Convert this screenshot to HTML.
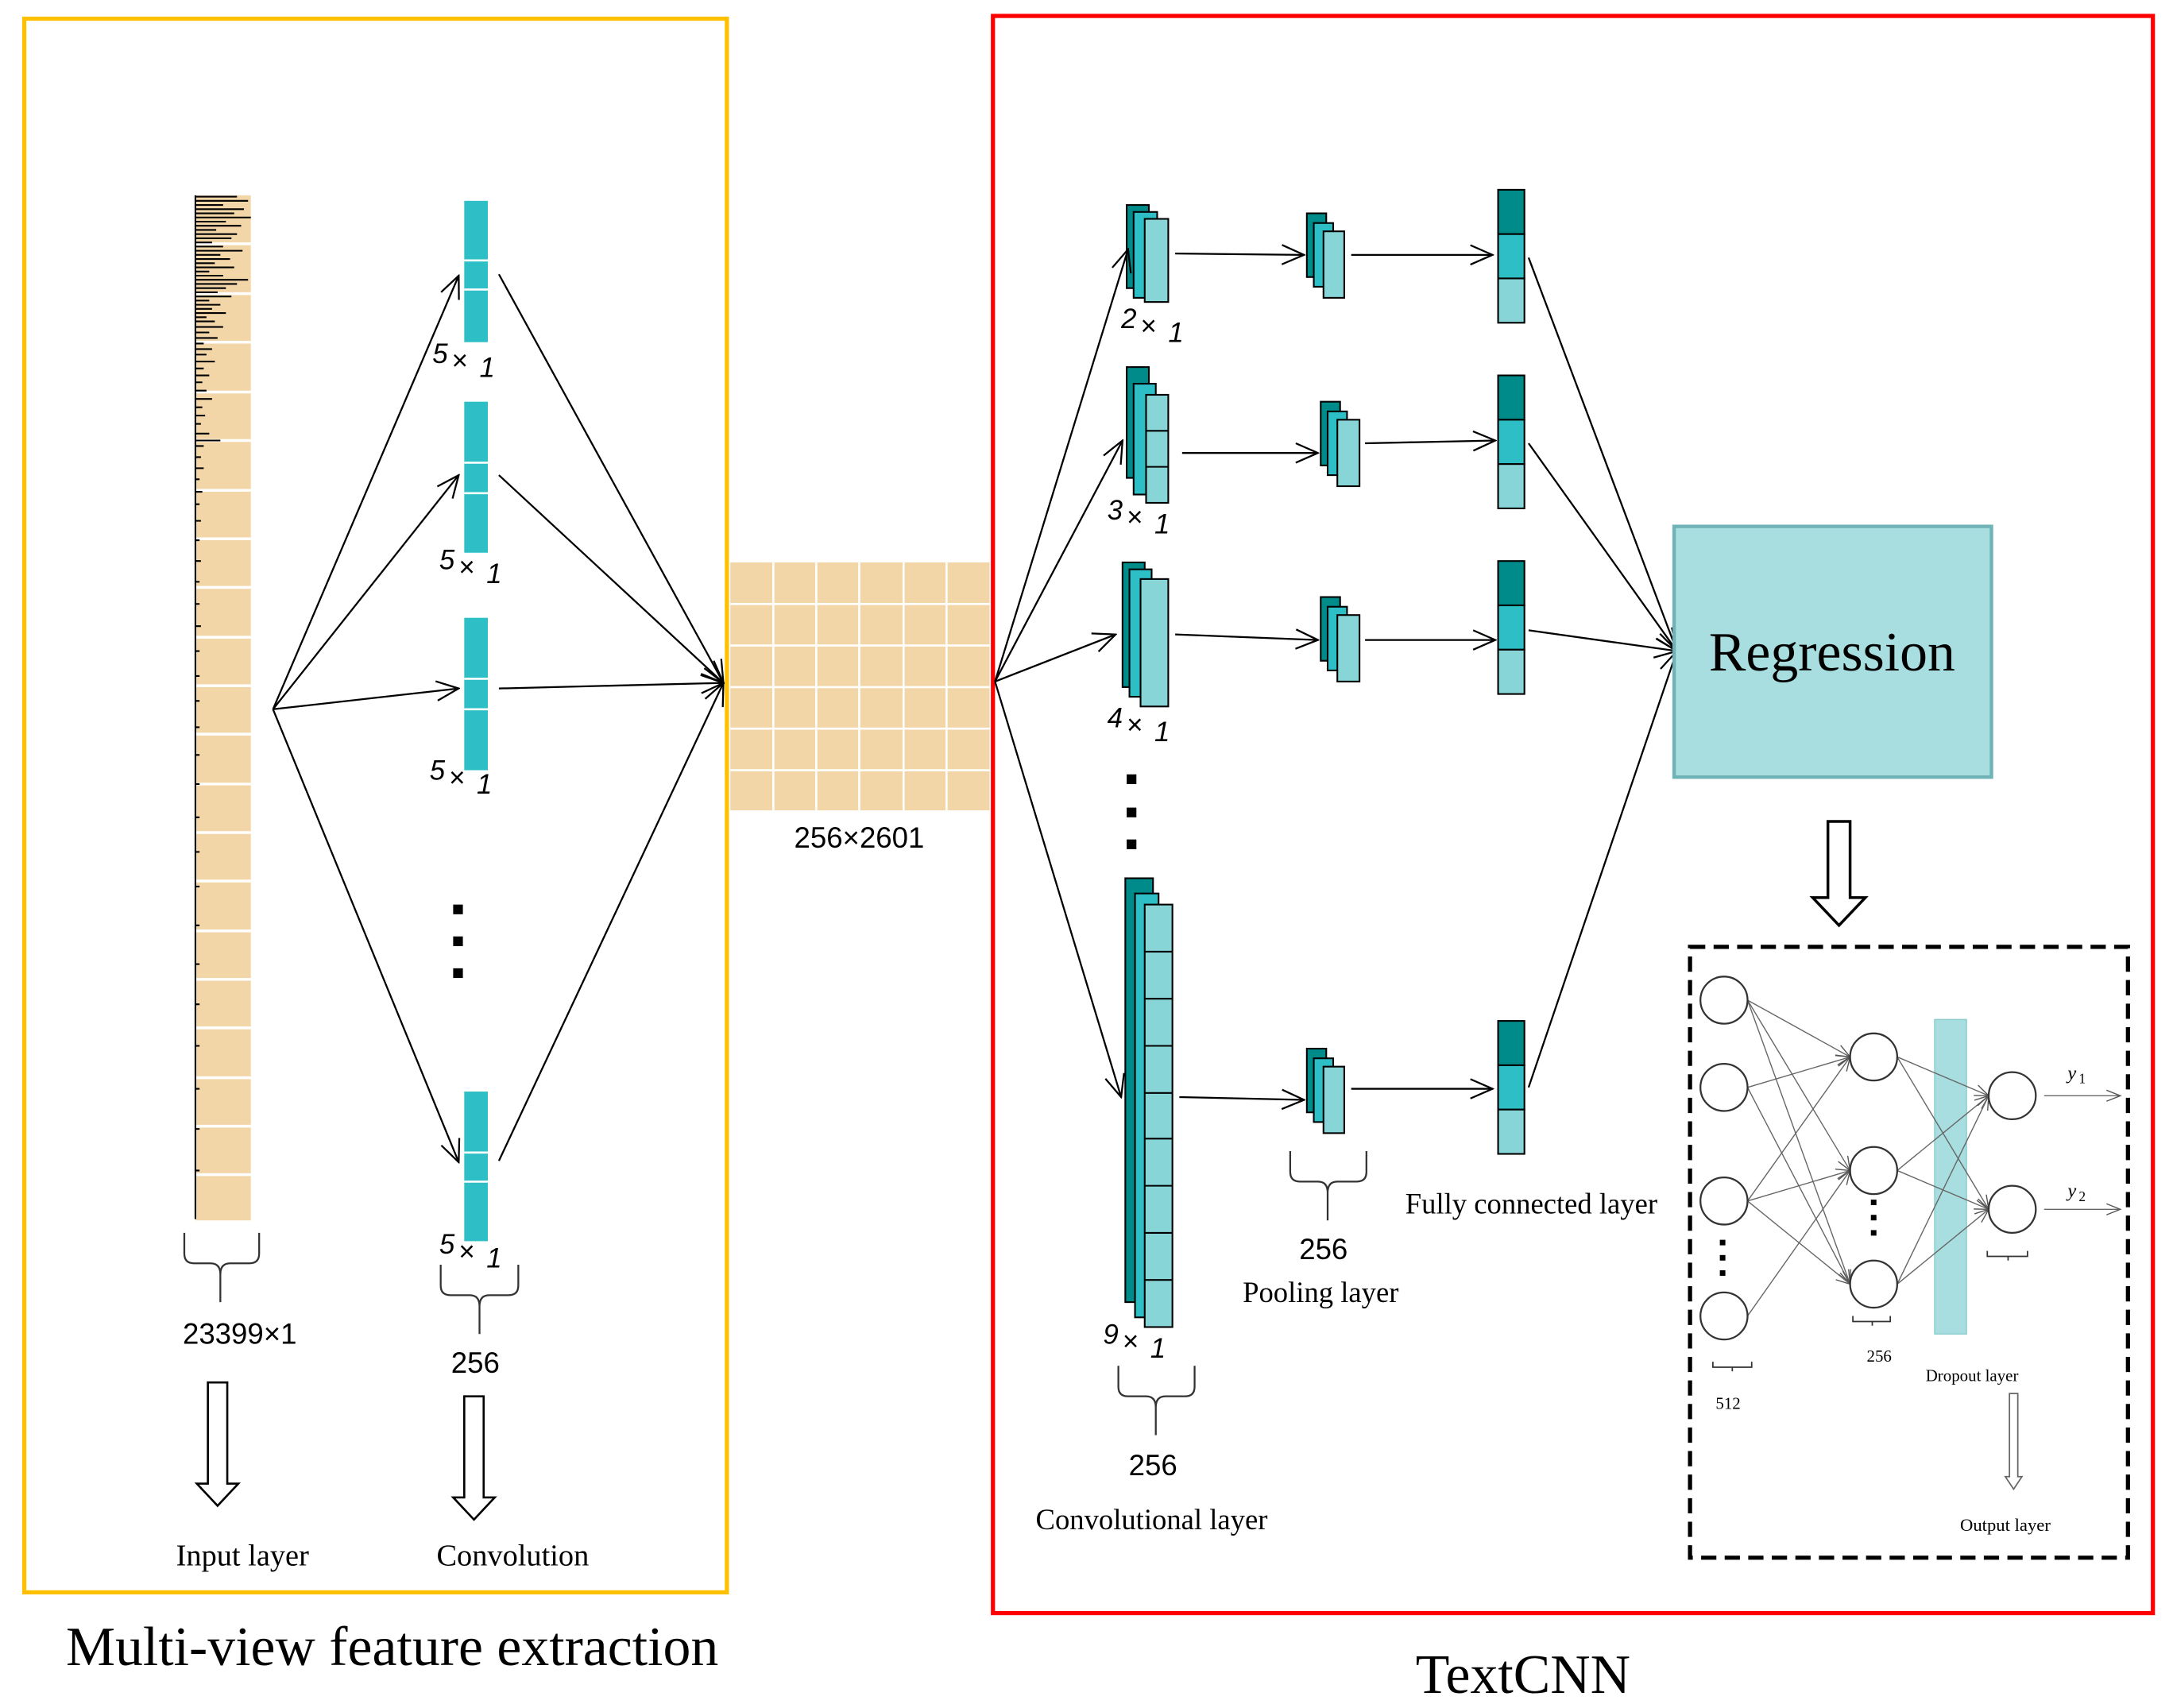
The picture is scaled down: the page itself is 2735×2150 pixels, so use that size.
<!DOCTYPE html>
<html><head><meta charset="utf-8"><style>
html,body{margin:0;padding:0;background:#fff;}
svg{display:block;}
.s{font-family:"Liberation Serif",serif;fill:#000;}
.a{font-family:"Liberation Sans",sans-serif;fill:#000;}
</style></head><body>
<svg width="2735" height="2150" viewBox="0 0 1568 1233" preserveAspectRatio="none" xmlns="http://www.w3.org/2000/svg">
<defs>
<marker id="ar" markerWidth="18" markerHeight="16" refX="17" refY="8" orient="auto" markerUnits="userSpaceOnUse">
<path d="M1,1 L17,8 L1,15" fill="none" stroke="#000" stroke-width="1.3"/>
</marker>
<marker id="ar2" markerWidth="12" markerHeight="10" refX="11" refY="5" orient="auto" markerUnits="userSpaceOnUse">
<path d="M1,1 L11,5 L1,9" fill="none" stroke="#555" stroke-width="0.8"/>
</marker>
</defs>
<rect width="1568" height="1240" fill="#fff"/>
<rect x="17.5" y="13.5" width="507" height="1136" fill="none" stroke="#FFC000" stroke-width="3"/>
<rect x="716.5" y="11.5" width="837" height="1153" fill="none" stroke="#FF0000" stroke-width="3"/>

<rect x="141" y="141" width="40" height="740" fill="#F2D6A8"/>
<g stroke="#fff" stroke-width="2">
<line x1="141" y1="176" x2="181" y2="176"/><line x1="141" y1="212" x2="181" y2="212"/><line x1="141" y1="247" x2="181" y2="247"/><line x1="141" y1="283" x2="181" y2="283"/><line x1="141" y1="318" x2="181" y2="318"/><line x1="141" y1="354" x2="181" y2="354"/><line x1="141" y1="389" x2="181" y2="389"/><line x1="141" y1="424" x2="181" y2="424"/><line x1="141" y1="460" x2="181" y2="460"/><line x1="141" y1="495" x2="181" y2="495"/><line x1="141" y1="530" x2="181" y2="530"/><line x1="141" y1="566" x2="181" y2="566"/><line x1="141" y1="601" x2="181" y2="601"/><line x1="141" y1="636" x2="181" y2="636"/><line x1="141" y1="672" x2="181" y2="672"/><line x1="141" y1="707" x2="181" y2="707"/><line x1="141" y1="742" x2="181" y2="742"/><line x1="141" y1="778" x2="181" y2="778"/><line x1="141" y1="813" x2="181" y2="813"/><line x1="141" y1="848" x2="181" y2="848"/>
</g>
<path stroke="#000" stroke-width="1.2" fill="none" d="M141,141 V880 M141,142h30 M141,145h38 M141,148h20 M141,151h35 M141,154h28 M141,157h40 M141,160h22 M141,163h33 M141,166h15 M141,169h30 M141,172h26 M141,175h12 M141,178h20 M141,181h34 M141,184h18 M141,187h25 M141,190h14 M141,193h28 M141,196h10 M141,199h20 M141,202h38 M141,205h30 M141,208h22 M141,211h16 M141,214h26 M141,217h10 M141,220h18 M141,223h12 M141,226h22 M141,229h8 M141,232h14 M141,236h20 M141,240h10 M141,244h16 M141,248h6 M141,252h12 M141,256h8 M141,261h14 M141,266h6 M141,271h10 M141,276h5 M141,282h8 M141,288h12 M141,294h5 M141,300h7 M141,306h4 M141,313h10 M141,318h18 M141,322h6 M141,330h4 M141,338h6 M141,346h3 M141,355h5 M141,364h3 M141,376h4 M141,390h3 M141,405h4 M141,420h3 M141,436h3 M141,452h4 M141,470h3 M141,488h3 M141,506h3 M141,525h3 M141,545h3 M141,566h3 M141,590h3 M141,615h3 M141,640h3 M141,668h3 M141,696h3 M141,725h3 M141,755h3 M141,786h3 M141,815h3 M141,845h3"/>

<g fill="#2EBFC6">
<rect x="335" y="145" width="17" height="102"/>
<rect x="335" y="290" width="17" height="109"/>
<rect x="335" y="446" width="17" height="110"/>
<rect x="335" y="788" width="17" height="108"/>
</g>
<g stroke="#fff" stroke-width="1.5">
<line x1="335" y1="188" x2="352" y2="188"/><line x1="335" y1="209" x2="352" y2="209"/>
<line x1="335" y1="334" x2="352" y2="334"/><line x1="335" y1="356" x2="352" y2="356"/>
<line x1="335" y1="490" x2="352" y2="490"/><line x1="335" y1="512" x2="352" y2="512"/>
<line x1="335" y1="832" x2="352" y2="832"/><line x1="335" y1="853" x2="352" y2="853"/>
</g>
<g class="a" font-size="20" font-style="italic">
<text x="312" y="262">5</text><text x="326" y="267" font-size="20" font-style="normal">×</text><text x="346" y="272">1</text>
<text x="317" y="411">5</text><text x="331" y="416" font-size="20" font-style="normal">×</text><text x="351" y="421">1</text>
<text x="310" y="563">5</text><text x="324" y="568" font-size="20" font-style="normal">×</text><text x="344" y="573">1</text>
<text x="317" y="905">5</text><text x="331" y="910" font-size="20" font-style="normal">×</text><text x="351" y="915">1</text>
</g>
<g fill="#000"><rect x="327" y="653" width="7" height="7"/><rect x="327" y="676" width="7" height="7"/><rect x="327" y="699" width="7" height="7"/></g>

<g stroke="#000" stroke-width="1.3" fill="none">
<line x1="197" y1="512" x2="331" y2="199" marker-end="url(#ar)"/>
<line x1="197" y1="512" x2="331" y2="343" marker-end="url(#ar)"/>
<line x1="197" y1="512" x2="331" y2="497" marker-end="url(#ar)"/>
<line x1="197" y1="512" x2="331" y2="839" marker-end="url(#ar)"/>
<line x1="360" y1="198" x2="522" y2="493" marker-end="url(#ar)"/>
<line x1="360" y1="343" x2="522" y2="493" marker-end="url(#ar)"/>
<line x1="360" y1="497" x2="522" y2="493" marker-end="url(#ar)"/>
<line x1="360" y1="838" x2="522" y2="493" marker-end="url(#ar)"/>
</g>

<rect x="527" y="406" width="187" height="179" fill="#F2D6A8"/>
<g stroke="#fff" stroke-width="1.5">
<line x1="558" y1="406" x2="558" y2="585"/><line x1="589" y1="406" x2="589" y2="585"/><line x1="620" y1="406" x2="620" y2="585"/><line x1="652" y1="406" x2="652" y2="585"/><line x1="683" y1="406" x2="683" y2="585"/>
<line x1="527" y1="436" x2="714" y2="436"/><line x1="527" y1="466" x2="714" y2="466"/><line x1="527" y1="496" x2="714" y2="496"/><line x1="527" y1="526" x2="714" y2="526"/><line x1="527" y1="556" x2="714" y2="556"/>
</g>
<text class="a" x="620" y="612" font-size="21" text-anchor="middle">256×2601</text>

<g stroke="#333" stroke-width="1.3" fill="none">
<path d="M133,890 V905 Q133,912 140,912 H152 Q159,912 159,920 V940 M159,920 Q159,912 166,912 H180 Q187,912 187,905 V890"/>
<path d="M318,913 V928 Q318,935 325,935 H339 Q346,935 346,943 V963 M346,943 Q346,935 353,935 H367 Q374,935 374,928 V913"/>
</g>
<text class="a" x="173" y="970" font-size="21" text-anchor="middle">23399×1</text>
<text class="a" x="343" y="991" font-size="21" text-anchor="middle">256</text>
<g stroke="#000" stroke-width="1.5" fill="#fff">
<path d="M150,998 H164 V1071 H172 L157,1087 L142,1071 H150 Z"/>
<path d="M335,1008 H349 V1081 H357 L342,1097 L327,1081 H335 Z"/>
</g>
<text class="s" x="175" y="1130" font-size="22" text-anchor="middle">Input layer</text>
<text class="s" x="370" y="1130" font-size="22" text-anchor="middle">Convolution</text>
<text class="s" x="283" y="1202" font-size="40" text-anchor="middle">Multi-view feature extraction</text>
<text class="s" x="1099" y="1222" font-size="40" text-anchor="middle">TextCNN</text>

<g stroke="#000" stroke-width="1.2">
<rect x="813" y="148" width="16" height="60" fill="#008B8B"/>
<rect x="818" y="153" width="17" height="62" fill="#2EBFC6"/>
<rect x="826" y="158" width="17" height="60" fill="#88D5D8"/>
<rect x="813" y="265" width="16" height="80" fill="#008B8B"/>
<rect x="818" y="277" width="16" height="80" fill="#2EBFC6"/>
<rect x="827" y="285" width="16" height="78" fill="#88D5D8"/>
<line x1="827" y1="311" x2="843" y2="311"/><line x1="827" y1="337" x2="843" y2="337"/>
<rect x="810" y="406" width="16" height="90" fill="#008B8B"/>
<rect x="815" y="411" width="16" height="92" fill="#2EBFC6"/>
<rect x="823" y="418" width="20" height="92" fill="#88D5D8"/>
<rect x="812" y="634" width="20" height="306" fill="#008B8B"/>
<rect x="819" y="645" width="17" height="306" fill="#2EBFC6"/>
<rect x="826" y="653" width="20" height="305" fill="#88D5D8"/>
<line x1="826" y1="687" x2="846" y2="687"/><line x1="826" y1="721" x2="846" y2="721"/><line x1="826" y1="755" x2="846" y2="755"/><line x1="826" y1="789" x2="846" y2="789"/><line x1="826" y1="822" x2="846" y2="822"/><line x1="826" y1="856" x2="846" y2="856"/><line x1="826" y1="890" x2="846" y2="890"/><line x1="826" y1="924" x2="846" y2="924"/>
</g>
<g class="a" font-size="20" font-style="italic">
<text x="809" y="237">2</text><text x="823" y="242" font-size="20" font-style="normal">×</text><text x="843" y="247">1</text>
<text x="799" y="375">3</text><text x="813" y="380" font-size="20" font-style="normal">×</text><text x="833" y="385">1</text>
<text x="799" y="525">4</text><text x="813" y="530" font-size="20" font-style="normal">×</text><text x="833" y="535">1</text>
<text x="796" y="970">9</text><text x="810" y="975" font-size="20" font-style="normal">×</text><text x="830" y="980">1</text>
</g>
<g fill="#000"><rect x="813" y="559" width="7" height="7"/><rect x="813" y="583" width="7" height="7"/><rect x="813" y="606" width="7" height="7"/></g>

<g stroke="#000" stroke-width="1.2">
<rect x="943" y="154" width="14" height="46" fill="#008B8B"/><rect x="948" y="161" width="14" height="46" fill="#2EBFC6"/><rect x="955" y="167" width="15" height="48" fill="#88D5D8"/>
<rect x="953" y="290" width="14" height="46" fill="#008B8B"/><rect x="958" y="297" width="14" height="46" fill="#2EBFC6"/><rect x="965" y="303" width="16" height="48" fill="#88D5D8"/>
<rect x="953" y="431" width="14" height="46" fill="#008B8B"/><rect x="958" y="438" width="14" height="46" fill="#2EBFC6"/><rect x="965" y="444" width="16" height="48" fill="#88D5D8"/>
<rect x="943" y="757" width="14" height="46" fill="#008B8B"/><rect x="948" y="764" width="14" height="46" fill="#2EBFC6"/><rect x="955" y="770" width="15" height="48" fill="#88D5D8"/>
</g>

<g stroke="#000" stroke-width="1.2">
<rect x="1081" y="137" width="19" height="32" fill="#008B8B"/><rect x="1081" y="169" width="19" height="32" fill="#2EBFC6"/><rect x="1081" y="201" width="19" height="32" fill="#88D5D8"/>
<rect x="1081" y="271" width="19" height="32" fill="#008B8B"/><rect x="1081" y="303" width="19" height="32" fill="#2EBFC6"/><rect x="1081" y="335" width="19" height="32" fill="#88D5D8"/>
<rect x="1081" y="405" width="19" height="32" fill="#008B8B"/><rect x="1081" y="437" width="19" height="32" fill="#2EBFC6"/><rect x="1081" y="469" width="19" height="32" fill="#88D5D8"/>
<rect x="1081" y="737" width="19" height="32" fill="#008B8B"/><rect x="1081" y="769" width="19" height="32" fill="#2EBFC6"/><rect x="1081" y="801" width="19" height="32" fill="#88D5D8"/>
</g>

<g stroke="#000" stroke-width="1.3" fill="none">
<line x1="718" y1="492" x2="814" y2="180" marker-end="url(#ar)"/>
<line x1="718" y1="492" x2="810" y2="318" marker-end="url(#ar)"/>
<line x1="718" y1="492" x2="805" y2="458" marker-end="url(#ar)"/>
<line x1="718" y1="492" x2="809" y2="792" marker-end="url(#ar)"/>
<line x1="848" y1="183" x2="941" y2="184" marker-end="url(#ar)"/>
<line x1="853" y1="327" x2="951" y2="327" marker-end="url(#ar)"/>
<line x1="848" y1="458" x2="951" y2="462" marker-end="url(#ar)"/>
<line x1="851" y1="792" x2="941" y2="794" marker-end="url(#ar)"/>
<line x1="975" y1="184" x2="1077" y2="184" marker-end="url(#ar)"/>
<line x1="985" y1="320" x2="1079" y2="318" marker-end="url(#ar)"/>
<line x1="985" y1="462" x2="1079" y2="462" marker-end="url(#ar)"/>
<line x1="975" y1="786" x2="1077" y2="786" marker-end="url(#ar)"/>
<line x1="1103" y1="186" x2="1210" y2="470" marker-end="url(#ar)"/>
<line x1="1103" y1="320" x2="1210" y2="470" marker-end="url(#ar)"/>
<line x1="1103" y1="455" x2="1210" y2="470" marker-end="url(#ar)"/>
<line x1="1103" y1="785" x2="1210" y2="470" marker-end="url(#ar)"/>
</g>

<g stroke="#333" stroke-width="1.3" fill="none">
<path d="M931,831 V846 Q931,853 938,853 H951 Q958,853 958,861 V881 M958,861 Q958,853 965,853 H979 Q986,853 986,846 V831"/>
<path d="M807,986 V1001 Q807,1008 814,1008 H827 Q834,1008 834,1016 V1036 M834,1016 Q834,1008 841,1008 H855 Q862,1008 862,1001 V986"/>
</g>
<text class="a" x="955" y="909" font-size="21" text-anchor="middle">256</text>
<text class="s" x="953" y="940" font-size="21" text-anchor="middle">Pooling layer</text>
<text class="s" x="1105" y="876" font-size="21" text-anchor="middle">Fully connected layer</text>
<text class="a" x="832" y="1065" font-size="21" text-anchor="middle">256</text>
<text class="s" x="831" y="1104" font-size="21" text-anchor="middle">Convolutional layer</text>

<rect x="1208" y="380" width="229" height="181" fill="#A8DEE0" stroke="#6FB3B6" stroke-width="2.5"/>
<text class="s" x="1322" y="484" font-size="40" text-anchor="middle">Regression</text>
<path d="M1319,593 H1335 V648 H1346 L1327,668 L1308,648 H1319 Z" fill="#fff" stroke="#000" stroke-width="2"/>

<rect x="1219.5" y="683.5" width="316" height="441" fill="none" stroke="#000" stroke-width="3" stroke-dasharray="11,6"/>
<rect x="1396" y="736" width="23" height="227" fill="#A8DEE0" stroke="#8CC" stroke-width="0.8"/>
<g stroke="#666" stroke-width="0.8" fill="none">
<line x1="1261" y1="722" x2="1335" y2="763" marker-end="url(#ar2)"/>
<line x1="1261" y1="722" x2="1335" y2="845" marker-end="url(#ar2)"/>
<line x1="1261" y1="722" x2="1335" y2="927" marker-end="url(#ar2)"/>
<line x1="1261" y1="785" x2="1335" y2="763" marker-end="url(#ar2)"/>
<line x1="1261" y1="785" x2="1335" y2="927" marker-end="url(#ar2)"/>
<line x1="1261" y1="867" x2="1335" y2="763" marker-end="url(#ar2)"/>
<line x1="1261" y1="867" x2="1335" y2="845" marker-end="url(#ar2)"/>
<line x1="1261" y1="867" x2="1335" y2="927" marker-end="url(#ar2)"/>
<line x1="1261" y1="950" x2="1335" y2="845" marker-end="url(#ar2)"/>
<line x1="1369" y1="763" x2="1435" y2="791" marker-end="url(#ar2)"/>
<line x1="1369" y1="763" x2="1435" y2="873" marker-end="url(#ar2)"/>
<line x1="1369" y1="845" x2="1435" y2="791" marker-end="url(#ar2)"/>
<line x1="1369" y1="845" x2="1435" y2="873" marker-end="url(#ar2)"/>
<line x1="1369" y1="927" x2="1435" y2="791" marker-end="url(#ar2)"/>
<line x1="1369" y1="927" x2="1435" y2="873" marker-end="url(#ar2)"/>
<line x1="1475" y1="791" x2="1530" y2="791" marker-end="url(#ar2)"/>
<line x1="1475" y1="873" x2="1530" y2="873" marker-end="url(#ar2)"/>
</g>
<g fill="#fff" stroke="#333" stroke-width="1.3">
<ellipse cx="1244" cy="722" rx="17" ry="17"/><ellipse cx="1244" cy="785" rx="17" ry="17"/><ellipse cx="1244" cy="867" rx="17" ry="17"/><ellipse cx="1244" cy="950" rx="17" ry="17"/>
<ellipse cx="1352" cy="763" rx="17" ry="17"/><ellipse cx="1352" cy="845" rx="17" ry="17"/><ellipse cx="1352" cy="927" rx="17" ry="17"/>
<ellipse cx="1452" cy="791" rx="17" ry="17"/><ellipse cx="1452" cy="873" rx="17" ry="17"/>
</g>
<g fill="#000"><rect x="1241" y="895" width="4" height="4"/><rect x="1241" y="906" width="4" height="4"/><rect x="1241" y="917" width="4" height="4"/>
<rect x="1350" y="866" width="4" height="4"/><rect x="1350" y="877" width="4" height="4"/><rect x="1350" y="888" width="4" height="4"/></g>
<g stroke="#333" stroke-width="1" fill="none">
<path d="M1236,983 V987 H1264 V983 M1250,987 V990"/>
<path d="M1337,950 V954 H1364 V950 M1351,954 V957"/>
<path d="M1434,903 V907 H1463 V903 M1449,907 V910"/>
</g>
<text class="s" x="1247" y="1017" font-size="12" text-anchor="middle">512</text>
<text class="s" x="1356" y="983" font-size="12" text-anchor="middle">256</text>
<text class="s" x="1423" y="997" font-size="12" text-anchor="middle">Dropout layer</text>
<text class="s" x="1447" y="1105" font-size="13" text-anchor="middle">Output layer</text>
<text class="s" x="1492" y="779" font-size="14" font-style="italic">y</text><text class="s" x="1500" y="782" font-size="10">1</text>
<text class="s" x="1492" y="864" font-size="14" font-style="italic">y</text><text class="s" x="1500" y="867" font-size="10">2</text>
<path d="M1450,1006 H1456 V1066 H1459 L1453,1075 L1447,1066 H1450 Z" fill="#fff" stroke="#666" stroke-width="1"/>
</svg>
</body></html>
